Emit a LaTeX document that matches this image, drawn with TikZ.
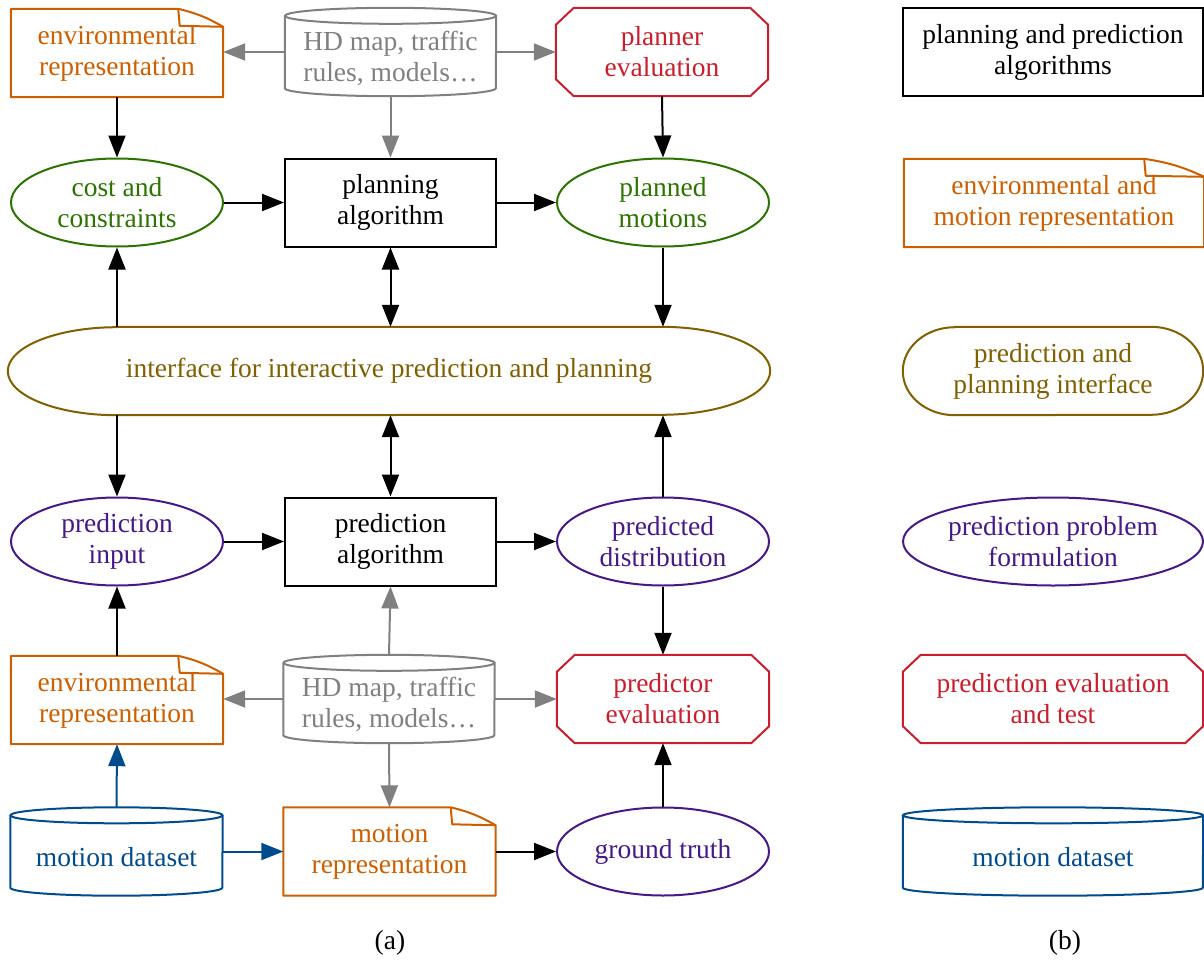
\documentclass[tikz,border=0pt]{standalone}
\usepackage{fontspec}
\setmainfont{Liberation Serif}
\usetikzlibrary{shapes.geometric,arrows.meta}
\definecolor{corange}{RGB}{204,96,0}
\definecolor{cgray}{RGB}{128,128,128}
\definecolor{cred}{RGB}{200,30,45}
\definecolor{cgreen}{RGB}{45,115,0}
\definecolor{cgold}{RGB}{128,96,0}
\definecolor{cpurple}{RGB}{70,25,135}
\definecolor{cblue}{RGB}{0,75,140}
\newcommand\mkdoc[3]{% node, colour, fold width
  \draw[#2,line width=2pt,line join=round] (#1.south west) -- (#1.north west) -- ([xshift=-#3]#1.north east) to[bend left=8] ([yshift=-18pt]#1.north east) -- (#1.south east) -- cycle;
  \draw[#2,line width=2pt,line join=round] ([xshift=-#3]#1.north east) -- ([xshift=-#3+1.5pt,yshift=-17pt]#1.north east) -- ([yshift=-18pt]#1.north east);}
\newcommand\mkoct[2]{%
  \draw[#2,line width=2pt,line join=round] ([xshift=18pt]#1.north west) -- ([xshift=-18pt]#1.north east) -- ([yshift=-17pt]#1.north east) -- ([yshift=17pt]#1.south east) -- ([xshift=-18pt]#1.south east) -- ([xshift=18pt]#1.south west) -- ([yshift=17pt]#1.south west) -- ([yshift=-17pt]#1.north west) -- cycle;}
\newcommand\mkcyl[3]{% node, colour, half width
  \draw[#2,line width=2pt] ([yshift=-8pt]#1.north west) -- ([yshift=8pt]#1.south west) arc[start angle=180,end angle=360,x radius=#3,y radius=8pt] -- ([yshift=-8pt]#1.north east);
  \draw[#2,line width=2pt] ([yshift=-8pt]#1.north) ellipse[x radius=#3,y radius=8pt];}
\newcommand\mkcaps[3]{% node, colour, end x radius
  \draw[#2,line width=2pt] ([xshift=#3]#1.north west) -- ([xshift=-#3]#1.north east) arc[start angle=90,end angle=-90,x radius=#3,y radius=44pt] -- ([xshift=#3]#1.south west) arc[start angle=270,end angle=90,x radius=#3,y radius=44pt] -- cycle;}
\tikzset{
  base/.style={font=\fontsize{27.5}{31}\selectfont, align=center, inner sep=0pt, minimum width=212pt, minimum height=88pt},
  wide/.style={minimum width=300pt},
  algbox/.style={base, rectangle, draw, line width=2pt},
  ell/.style={base, ellipse, draw=#1, text=#1, line width=2pt},
  hold/.style={base, text=#1},
  lbl/.style={font=\fontsize{27.5}{31}\selectfont, inner sep=0pt, text=#1, align=center},
  arr/.style={line width=2pt, -{Triangle[length=22pt,width=17pt]}},
  darr/.style={line width=2pt, {Triangle[length=22pt,width=17pt]}-{Triangle[length=22pt,width=17pt]}},
}
\begin{document}
\begin{tikzpicture}[x=1pt,y=-1pt]
\useasboundingbox (0,0) rectangle (1204,966);
\fill[white] (0,0) rectangle (1204,966);
% ---------- (a) ----------
\node[hold=corange] (env1) at (117,53) {environmental\\representation};
\node[hold=cgray,minimum width=211pt] (hd1) at (390.5,52) {};
\node[lbl=cgray] (hd1t) at (390.5,58) {HD map, traffic\\rules, models…};
\node[hold=cred] (peval1) at (662,52) {planner\\evaluation};
\node[ell=cgreen] (cost) at (117,202.5) {cost and\\constraints};
\node[algbox,minimum width=211pt] (palg) at (390.5,202.5) {planning\\algorithm};
\node[ell=cpurple!0!cgreen] (pmot) at (663,202.5) {planned\\motions};
\node[hold=cgold,minimum width=762pt] (iface) at (389,371) {interface for interactive prediction and planning};
\node[ell=cpurple] (pin) at (117,541.5) {prediction\\input};
\node[algbox,minimum width=211pt] (predalg) at (390.5,541.5) {prediction\\algorithm};
\node[ell=cpurple] (pdist) at (663,541.5) {predicted\\distribution};
\node[hold=corange] (env2) at (117,700) {environmental\\representation};
\node[hold=cgray,minimum width=211pt] (hd2) at (389,699) {};
\node[lbl=cgray] (hd2t) at (389,704) {HD map, traffic\\rules, models…};
\node[hold=cred] (peval2) at (663,699) {predictor\\evaluation};
\node[hold=cblue] (mds) at (116.5,851.5) {};
\node[lbl=cblue] (mdst) at (116.5,857) {motion dataset};
\node[hold=corange] (mrep) at (389.5,851.5) {motion\\representation};
\node[ell=cpurple] (gt) at (663,851.5) {ground truth};
\mkdoc{env1}{corange}{45pt}
\mkdoc{env2}{corange}{45pt}
\mkdoc{mrep}{corange}{45pt}
\mkcyl{hd1}{cgray}{105.5pt}
\mkcyl{hd2}{cgray}{105.5pt}
\mkcyl{mds}{cblue}{106pt}
\mkoct{peval1}{cred}
\mkoct{peval2}{cred}
\mkcaps{iface}{cgold}{109pt}
% connectors
\draw[arr,cgray] (hd1.west) -- (env1.east |- hd1.west);
\draw[arr,cgray] (hd1.east) -- (peval1.west);
\draw[arr,cgray] (hd1.south) -- (palg.north);
\draw[arr] (env1.south) -- (cost.north);
\draw[arr] (peval1.south) -- (pmot.north);
\draw[arr] (cost.east) -- (palg.west);
\draw[arr] (palg.east) -- (pmot.west);
\draw[arr] (cost.south |- iface.north) -- (cost.south);
\draw[darr] (palg.south) -- (palg.south |- iface.north);
\draw[arr] (pmot.south) -- (pmot.south |- iface.north);
\draw[arr] (pin.north |- iface.south) -- (pin.north);
\draw[darr] (predalg.north |- iface.south) -- (predalg.north);
\draw[arr] (pdist.north) -- (pdist.north |- iface.south);
\draw[arr] (pin.east) -- (predalg.west);
\draw[arr] (predalg.east) -- (pdist.west);
\draw[arr] (pdist.south) -- (peval2.north);
\draw[arr] (env2.north) -- (pin.south);
\draw[arr,cgray] (hd2.north) -- (predalg.south);
\draw[arr,cgray] (hd2.west) -- (env2.east |- hd2.west);
\draw[arr,cgray] (hd2.east) -- (peval2.west);
\draw[arr,cgray] (hd2.south) -- (mrep.north);
\draw[arr,cblue] (mds.north) -- (env2.south);
\draw[arr,cblue] (mds.east) -- (mrep.west);
\draw[arr] (mrep.east) -- (gt.west);
\draw[arr] (gt.north) -- (peval2.south);
% ---------- (b) ----------
\node[algbox,wide] (lalg) at (1053,52) {planning and prediction\\algorithms};
\node[hold=corange,wide] (ldoc) at (1054,203) {environmental and\\motion representation};
\node[hold=cgold,wide] (lif) at (1053,371) {prediction and\\planning interface};
\node[ell=cpurple,wide] (lprob) at (1053,541.5) {prediction problem\\formulation};
\node[hold=cred,wide] (leval) at (1053,699) {prediction evaluation\\and test};
\node[hold=cblue,wide] (lmds) at (1053,851.5) {};
\node[lbl=cblue] (lmdst) at (1053,857) {motion dataset};
\mkdoc{ldoc}{corange}{60pt}
\mkcaps{lif}{cgold}{52pt}
\mkoct{leval}{cred}
\mkcyl{lmds}{cblue}{150pt}
% captions
\node[lbl=black] (capa) at (390,943) {(a)};
\node[lbl=black] (capb) at (1065,943) {(b)};
\end{tikzpicture}
\end{document}
